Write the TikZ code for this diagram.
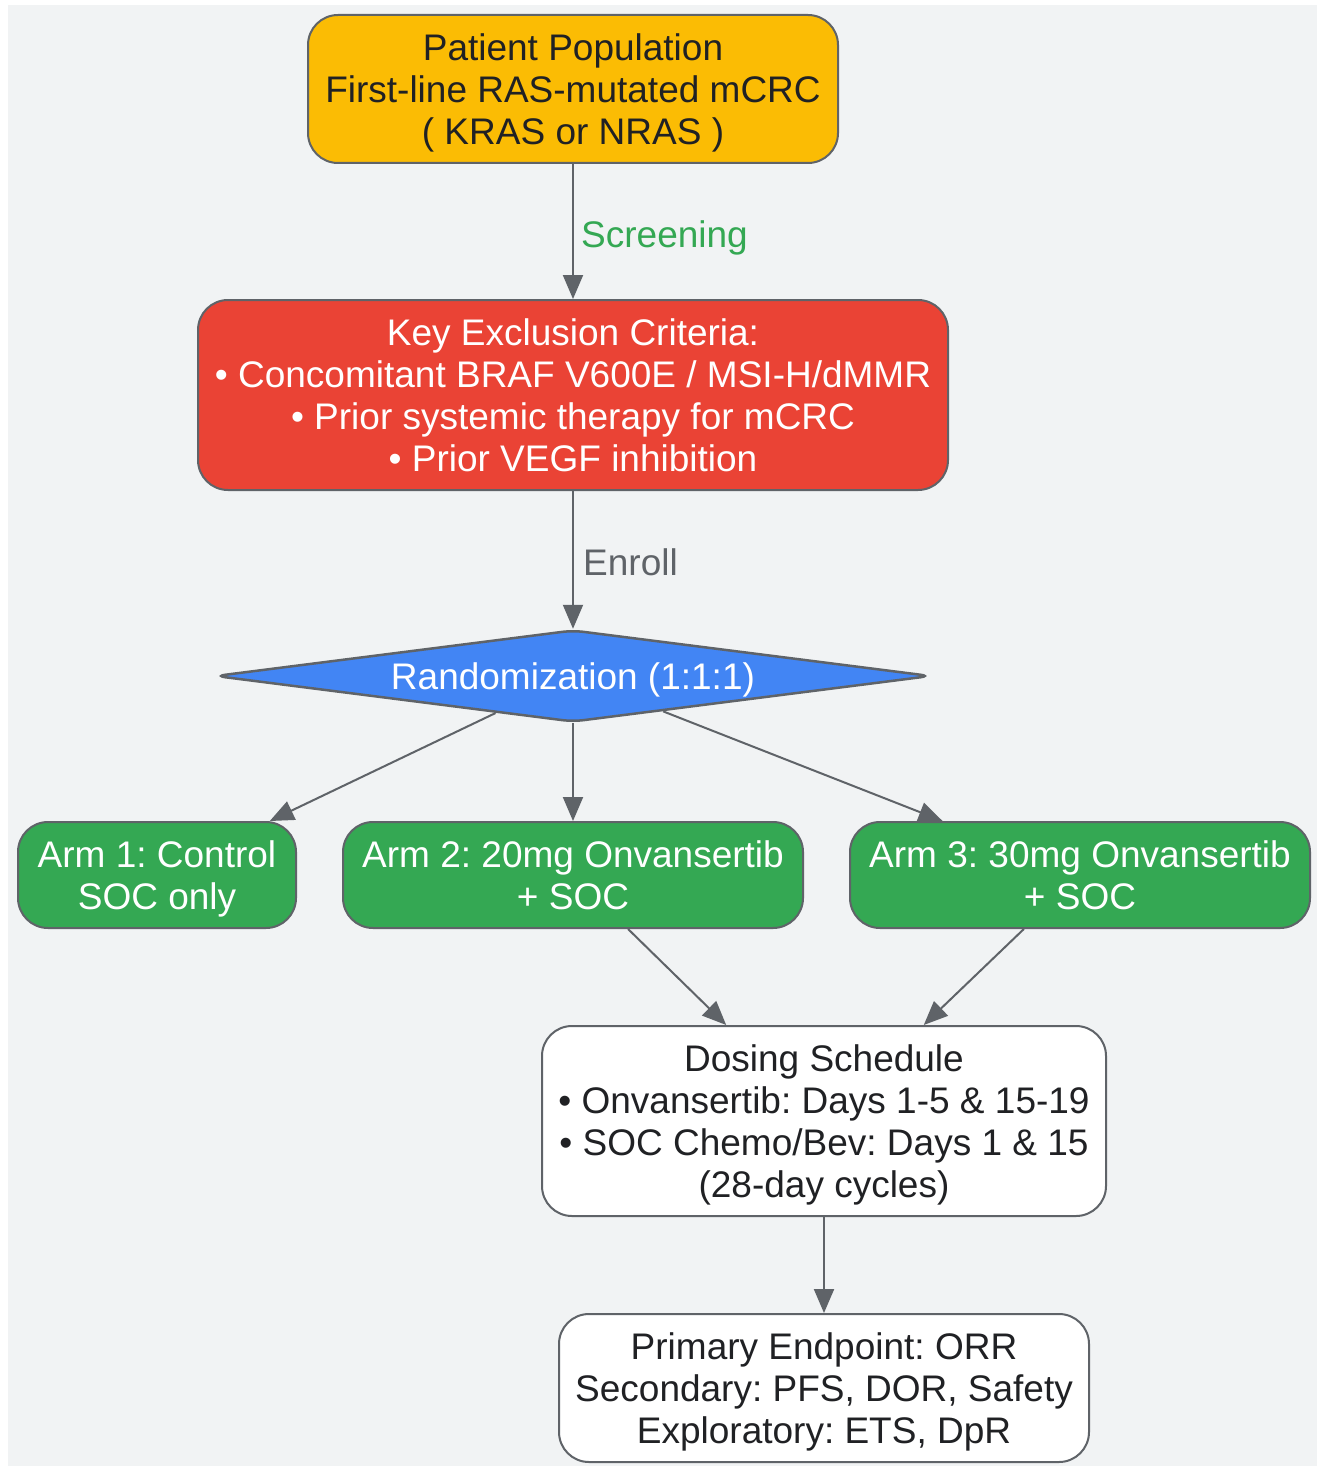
\documentclass[tikz,border=0pt]{standalone}
\usepackage{fontspec}
\setmainfont{Liberation Sans}
\usetikzlibrary{shapes.geometric,arrows.meta}
\definecolor{bgc}{HTML}{F1F3F4}
\definecolor{edgec}{HTML}{5F6368}
\definecolor{txtc}{HTML}{202124}
\definecolor{yel}{HTML}{FBBC04}
\definecolor{redc}{HTML}{EA4335}
\definecolor{bluec}{HTML}{4285F4}
\definecolor{greenc}{HTML}{34A853}
\frenchspacing
\tikzset{
  txt/.style={font=\fontsize{37}{42}\selectfont\frenchspacing},
  box/.style={draw=edgec, line width=2pt, rounded corners=30pt, align=center, inner sep=0pt,
    txt, text=txtc, text depth=-6pt},
  wbox/.style={box, text=white},
  conn/.style={draw=edgec, line width=2pt, -{Triangle[length=24pt,width=20pt]}},
  lbl/.style={txt, anchor=west, inner sep=0pt}
}
\begin{document}
\begin{tikzpicture}[x=1pt,y=-1pt]
\useasboundingbox (0,0) rectangle (1317,1466);
\fill[white] (0,0) rectangle (1317,1466);
\fill[bgc] (8,5) rectangle (1317,1466);

\node[box, fill=yel, minimum width=530pt, minimum height=148pt] (pop) at (573,89)
  {Patient Population\\First-line RAS-mutated mCRC\\( KRAS or NRAS )};
\node[wbox, fill=redc, minimum width=750pt, minimum height=190pt] (excl) at (573,395)
  {Key Exclusion Criteria:\\\textbullet\ Concomitant BRAF V600E / MSI-H/dMMR\\\textbullet\ Prior systemic therapy for mCRC\\\textbullet\ Prior VEGF inhibition};
\node[diamond, aspect=7.75, draw=edgec, line width=2.5pt, fill=bluec, text=white, rounded corners=10pt,
  minimum width=716pt, minimum height=92pt, inner sep=0pt, txt, text depth=-8pt] (rand) at (573,676)
  {Randomization (1:1:1)};
\node[wbox, fill=greenc, minimum width=278pt, minimum height=106pt] (arm1) at (157,875)
  {Arm 1: Control\\SOC only};
\node[wbox, fill=greenc, minimum width=460pt, minimum height=106pt] (arm2) at (573,875)
  {Arm 2: 20mg Onvansertib\\+ SOC};
\node[wbox, fill=greenc, minimum width=460pt, minimum height=106pt] (arm3) at (1080,875)
  {Arm 3: 30mg Onvansertib\\+ SOC};
\node[box, fill=white, minimum width=564pt, minimum height=190pt] (dose) at (824,1121)
  {Dosing Schedule\\\textbullet\ Onvansertib: Days 1-5 \& 15-19\\\textbullet\ SOC Chemo/Bev: Days 1 \& 15\\(28-day cycles)};
\node[box, fill=white, minimum width=530pt, minimum height=148pt] (endp) at (824,1388)
  {Primary Endpoint: ORR\\Secondary: PFS, DOR, Safety\\Exploratory: ETS, DpR};

\draw[conn] (pop) -- (excl);
\node[lbl, text=greenc] (lscr) at (581,238) {Screening};
\draw[conn] (excl) -- (rand);
\node[lbl, text=edgec] (lenr) at (583,562) {Enroll};
\draw[conn] (rand) -- (arm1);
\draw[conn] (rand) -- (arm2);
\draw[conn] (rand) -- (arm3);
\draw[conn] (arm2) -- (dose);
\draw[conn] (arm3) -- (dose);
\draw[conn] (dose) -- (endp);
\end{tikzpicture}
\end{document}
